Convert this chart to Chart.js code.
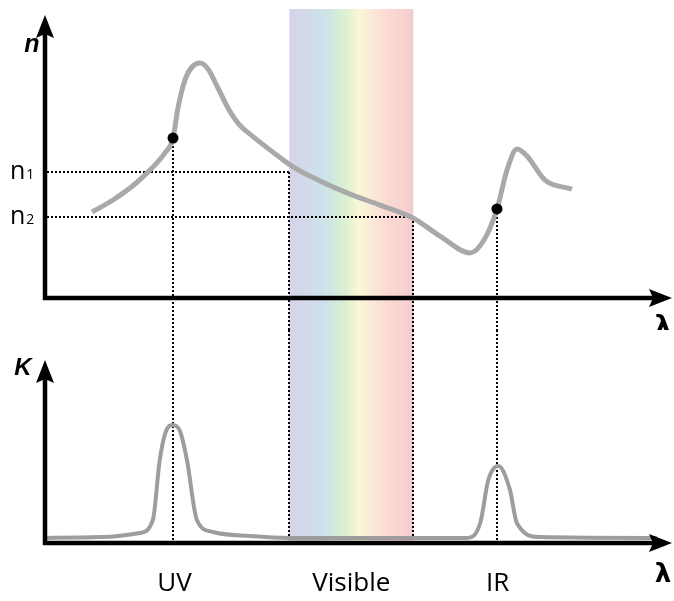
<!DOCTYPE html>
<html>
<head>
<meta charset="utf-8">
<script src="https://cdn.jsdelivr.net/npm/chart.js@4"></script>
<style>
  html, body { margin: 0; padding: 0; background: #fff; }
  #wrap { position: relative; width: 674px; height: 601px; }
  canvas { position: absolute; left: 0; }
  #top { top: 0; }
  #bottom { top: 330px; }
</style>
</head>
<body>
<div id="wrap">
  <canvas id="top" width="674" height="330"></canvas>
  <canvas id="bottom" width="674" height="271"></canvas>
</div>
<script>
// refractive index n(λ), arbitrary units
const lambdaN = [7.58, 10.97, 14.52, 17.26, 19.35, 20.65, 21.45, 22.58, 23.71, 25.0, 26.29, 27.9, 29.6, 31.3, 33.4, 36.29, 40.0, 44.35, 49.19, 54.03, 59.35, 63.71, 68.55, 70.81, 72.9, 74.52, 76.13, 77.74, 80.65, 85.0];
const nValues = [3.07, 3.5, 4.07, 4.64, 5.18, 5.71, 6.79, 7.79, 8.25, 8.39, 8.18, 7.5, 6.75, 6.2, 5.79, 5.29, 4.68, 4.18, 3.71, 3.32, 2.86, 2.21, 1.61, 2.07, 3.18, 4.57, 5.32, 5.07, 4.21, 3.89];

// absorption K(λ)
const lambdaK = [0, 8.9, 15.3, 17.4, 18.5, 19.5, 20.6, 21.8, 22.9, 24.5, 27.1, 33.1, 39.5, 59.4, 68.1, 70.2, 71.5, 73.1, 75.0, 76.1, 79.8, 98.7];
const kValues = [0.28, 0.33, 0.56, 1.28, 4.6, 6.2, 6.56, 6.2, 4.6, 1.28, 0.61, 0.39, 0.28, 0.28, 0.28, 1.11, 3.5, 4.28, 2.94, 1.11, 0.33, 0.28];

const regions = ["UV", "Visible", "IR"];
const regionLambda = [20.9, 49.4, 73.0];
const visibleBand = [39.4, 59.4];

const nLevels = [4.5, 2.9];
const nLevelSubs = ["1", "2"];

const dotLambda = [20.65, 72.9];
const dotN = [5.71, 3.18];

const GRAY = "#a9a9a9";

function toPoints(xs, ys) {
  return xs.map((x, i) => ({ x, y: ys[i] }));
}

function drawBand(chart, yTop, yBottom) {
  const ctx = chart.ctx;
  const xs = chart.scales.x;
  const xa = xs.getPixelForValue(visibleBand[0]);
  const xb = xs.getPixelForValue(visibleBand[1]);
  const g = ctx.createLinearGradient(xa, 0, xb, 0);
  g.addColorStop(0, "#d7d3ea");
  g.addColorStop(0.12, "#d3d9ea");
  g.addColorStop(0.28, "#cde2ea");
  g.addColorStop(0.38, "#d3ebdc");
  g.addColorStop(0.45, "#dbf0cf");
  g.addColorStop(0.56, "#faf7d7");
  g.addColorStop(0.68, "#fbe7d6");
  g.addColorStop(0.8, "#fbd9d3");
  g.addColorStop(0.93, "#f8d3d1");
  g.addColorStop(1, "#f1cbcb");
  ctx.save();
  ctx.fillStyle = g;
  ctx.fillRect(xa, yTop, xb - xa, yBottom - yTop);
  ctx.restore();
}

function dotted(ctx, x1, y1, x2, y2) {
  ctx.save();
  ctx.strokeStyle = "#000";
  ctx.lineWidth = 2;
  ctx.setLineDash([2, 2]);
  ctx.beginPath();
  ctx.moveTo(Math.round(x1), Math.round(y1));
  ctx.lineTo(Math.round(x2), Math.round(y2));
  ctx.stroke();
  ctx.restore();
}

function drawAxes(chart, tipUp) {
  const ctx = chart.ctx;
  const x0 = chart.scales.x.getPixelForValue(0);
  const y0 = chart.scales.y.getPixelForValue(0);
  const right = chart.width - 2;
  ctx.save();
  ctx.strokeStyle = "#000";
  ctx.fillStyle = "#000";
  ctx.lineWidth = 4.5;
  ctx.beginPath();
  ctx.moveTo(x0, y0 + 2);
  ctx.lineTo(x0, tipUp + 14);
  ctx.moveTo(x0 - 2, y0);
  ctx.lineTo(right - 14, y0);
  ctx.stroke();
  // arrow heads
  ctx.beginPath();
  ctx.moveTo(x0, tipUp);
  ctx.lineTo(x0 - 9, tipUp + 23);
  ctx.lineTo(x0, tipUp + 19);
  ctx.lineTo(x0 + 9, tipUp + 23);
  ctx.closePath();
  ctx.fill();
  ctx.beginPath();
  ctx.moveTo(right, y0);
  ctx.lineTo(right - 23, y0 - 9);
  ctx.lineTo(right - 19, y0);
  ctx.lineTo(right - 23, y0 + 9);
  ctx.closePath();
  ctx.fill();
  ctx.restore();
}

const topDecor = {
  id: "topDecor",
  beforeDatasetsDraw(chart) {
    const ctx = chart.ctx;
    const xs = chart.scales.x, ys = chart.scales.y;
    drawBand(chart, ys.top - 9, chart.height);
    const x0 = xs.getPixelForValue(0);
    // n1 -> left edge of visible band, n2 -> right edge
    nLevels.forEach((lv, i) => {
      const y = ys.getPixelForValue(lv);
      const xe = xs.getPixelForValue(visibleBand[i]);
      dotted(ctx, x0 + 2, y, xe, y);
      dotted(ctx, xe, y, xe, chart.height);
    });
    dotLambda.forEach((l, i) => {
      const x = xs.getPixelForValue(l);
      dotted(ctx, x, ys.getPixelForValue(dotN[i]), x, chart.height);
    });
  },
  afterDatasetsDraw(chart) {
    const ctx = chart.ctx;
    const xs = chart.scales.x, ys = chart.scales.y;
    drawAxes(chart, ys.top - 3);
    // dots on the curve
    ctx.save();
    ctx.fillStyle = "#000";
    dotLambda.forEach((l, i) => {
      ctx.beginPath();
      ctx.arc(xs.getPixelForValue(l), ys.getPixelForValue(dotN[i]), 5.5, 0, Math.PI * 2);
      ctx.fill();
    });
    // level labels
    const x0 = xs.getPixelForValue(0);
    nLevels.forEach((lv, i) => {
      const y = ys.getPixelForValue(lv) + 7;
      ctx.textAlign = "left";
      ctx.textBaseline = "alphabetic";
      ctx.font = "25px 'Open Sans'";
      ctx.fillText("n", 10, y);
      const w = ctx.measureText("n").width;
      ctx.font = "14px 'Open Sans'";
      ctx.fillText(nLevelSubs[i], 10 + w + 1, y);
    });
    // axis names
    ctx.textAlign = "center";
    ctx.textBaseline = "middle";
    ctx.font = "bold italic 25px 'Liberation Sans'";
    ctx.fillText("n", x0 - 13, ys.top + 27);
    ctx.font = "bold 26px 'DejaVu Sans'";
    ctx.fillText("λ", chart.width - 11, ys.getPixelForValue(0) + 29);
    ctx.restore();
  }
};

const bottomDecor = {
  id: "bottomDecor",
  beforeDatasetsDraw(chart) {
    const ctx = chart.ctx;
    const xs = chart.scales.x, ys = chart.scales.y;
    const y0 = ys.getPixelForValue(0);
    drawBand(chart, 0, y0);
    visibleBand.concat(dotLambda).forEach((l) => {
      const x = xs.getPixelForValue(l);
      dotted(ctx, x, 0, x, y0);
    });
  },
  afterDatasetsDraw(chart) {
    const ctx = chart.ctx;
    const xs = chart.scales.x, ys = chart.scales.y;
    drawAxes(chart, ys.top - 3);
    const y0 = ys.getPixelForValue(0);
    ctx.save();
    ctx.fillStyle = "#000";
    ctx.textAlign = "center";
    ctx.textBaseline = "middle";
    ctx.font = "26px 'Open Sans'";
    regions.forEach((r, i) => {
      ctx.fillText(r, xs.getPixelForValue(regionLambda[i]), y0 + 41);
    });
    ctx.font = "bold italic 24px 'Liberation Sans'";
    ctx.fillText("K", xs.getPixelForValue(0) - 22, ys.top + 5);
    ctx.font = "bold 26px 'DejaVu Sans'";
    ctx.fillText("λ", chart.width - 11, y0 + 32);
    ctx.restore();
  }
};

function baseOptions(padding) {
  return {
    responsive: false,
    animation: false,
    events: [],
    layout: { padding },
    plugins: { legend: { display: false }, tooltip: { enabled: false } },
    scales: {
      x: { type: "linear", min: 0, max: 100, display: false },
      y: { min: 0, max: 10, display: false }
    }
  };
}

new Chart(document.getElementById("top"), {
  type: "line",
  data: {
    datasets: [{
      data: toPoints(lambdaN, nValues),
      borderColor: GRAY,
      borderWidth: 5,
      pointRadius: 0,
      cubicInterpolationMode: "monotone",
      clip: false
    }]
  },
  options: baseOptions({ left: 45, right: 9, top: 18, bottom: 32 }),
  plugins: [topDecor]
});

new Chart(document.getElementById("bottom"), {
  type: "line",
  data: {
    datasets: [{
      data: toPoints(lambdaK, kValues),
      borderColor: "#9d9d9d",
      borderWidth: 4,
      pointRadius: 0,
      cubicInterpolationMode: "monotone",
      clip: false
    }]
  },
  options: baseOptions({ left: 45, right: 9, top: 33, bottom: 58 }),
  plugins: [bottomDecor]
});
</script>
</body>
</html>
